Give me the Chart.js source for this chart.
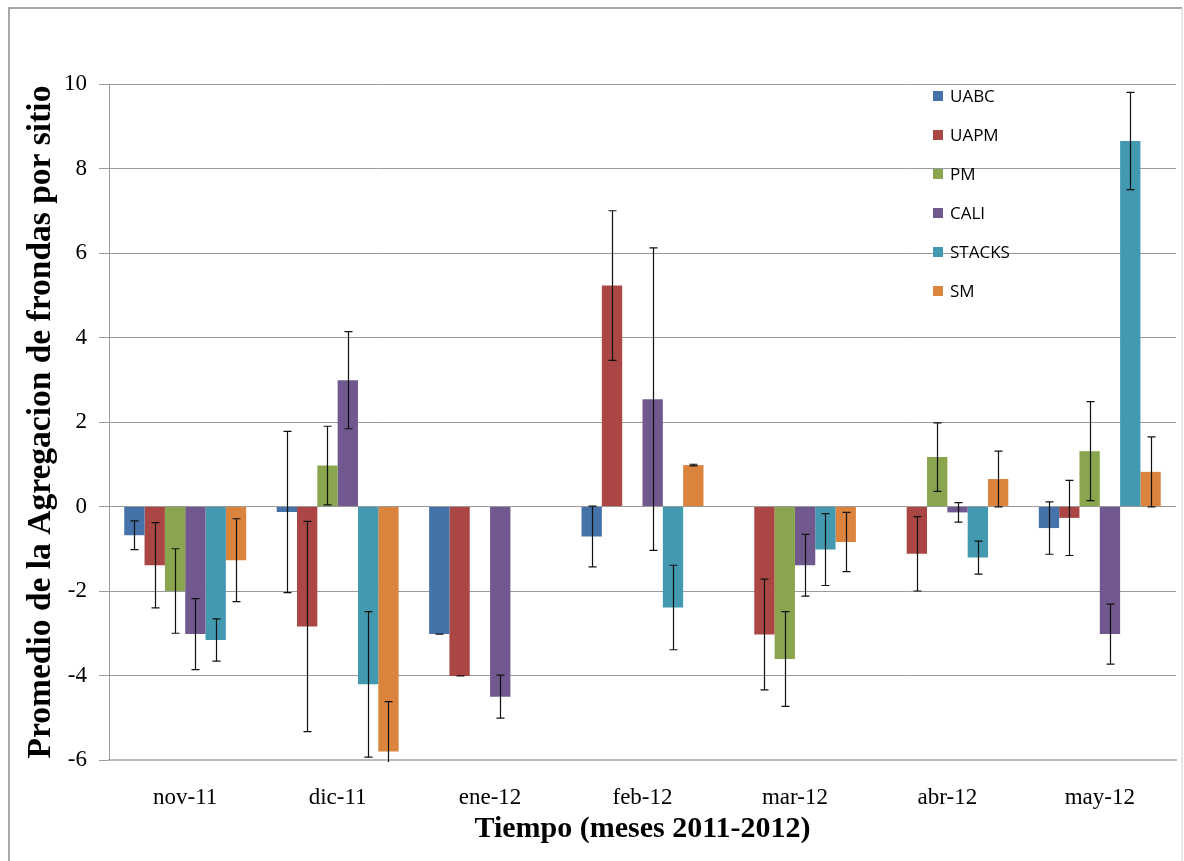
<!DOCTYPE html>
<html>
<head>
<meta charset="utf-8">
<script src="https://cdn.jsdelivr.net/npm/chart.js@4.4.1/dist/chart.umd.min.js"></script>
<style>
    body { margin: 0; background: #fff; }
    #wrap { position: relative; width: 1184px; height: 861px; }
    #leyenda { position: absolute; left: 933px; top: 76px; font-family: 'Open Sans', sans-serif; font-size: 17px; color: #000; }
    #leyenda div { height: 39px; line-height: 39px; white-space: nowrap; }
    #leyenda span { display: inline-block; width: 10px; height: 10px; margin-right: 7px; vertical-align: middle; position: relative; top: -1px; }
</style>
</head>
<body>
<div id="wrap">
    <canvas id="grafico" width="1184" height="861"></canvas>
    <div id="leyenda"></div>
</div>
<script>
const meses = ['nov-11', 'dic-11', 'ene-12', 'feb-12', 'mar-12', 'abr-12', 'may-12'];
const sitios = ['UABC', 'UAPM', 'PM', 'CALI', 'STACKS', 'SM'];
const colores = ['#4572A8', '#AA4643', '#89A54E', '#71588F', '#4299B0', '#DB843D'];

// promedios por sitio
const uabc = [-0.68, -0.13, -3.02, -0.71, null, null, -0.51];
const uapm = [-1.39, -2.84, -4.01, 5.23, -3.03, -1.12, -0.27];
const pm = [-2.0, 0.97, null, null, -3.61, 1.17, 1.31];
const cali = [-3.02, 2.99, -4.5, 2.54, -1.39, -0.14, -3.02];
const stacks = [-3.16, -4.21, null, -2.39, -1.02, -1.21, 8.65];
const sm = [-1.27, -5.8, null, 0.98, -0.84, 0.65, 0.82];

// error (+/-)
const errUabc = [0.34, 1.91, 0, 0.72, null, null, 0.62];
const errUapm = [1.01, 2.49, 0, 1.77, 1.31, 0.88, 0.89];
const errPm = [1.0, 0.93, null, null, 1.12, 0.81, 1.17];
const errCali = [0.84, 1.15, 0.51, 3.58, 0.73, 0.23, 0.71];
const errStacks = [0.5, 1.72, null, 1.0, 0.85, 0.39, 1.15];
const errSm = [0.98, 1.18, null, 0.02, 0.7, 0.66, 0.83];

const yTicks = [-6, -4, -2, 0, 2, 4, 6, 8, 10];

const valores = [uabc, uapm, pm, cali, stacks, sm];
const errores = [errUabc, errUapm, errPm, errCali, errStacks, errSm];

const leyenda = document.getElementById('leyenda');
sitios.forEach((s, i) => {
    leyenda.innerHTML += `<div><span style="background:${colores[i]}"></span>${s}</div>`;
});

const marco = {
    id: 'marco',
    beforeDraw(chart) {
        const ctx = chart.ctx;
        ctx.save();
        ctx.fillStyle = '#fff';
        ctx.fillRect(0, 0, chart.width, chart.height);
        ctx.strokeStyle = '#8a8a8a';
        ctx.lineWidth = 1.5;
        ctx.beginPath();
        ctx.moveTo(9, 870);
        ctx.lineTo(9, 8);
        ctx.lineTo(1182, 8);
        ctx.stroke();
        ctx.strokeStyle = '#e0e0e0';
        ctx.beginPath();
        ctx.moveTo(1182, 8);
        ctx.lineTo(1182, 870);
        ctx.stroke();
        ctx.restore();
    }
};

const barrasError = {
    id: 'barrasError',
    afterDatasetsDraw(chart) {
        const ctx = chart.ctx;
        const y = chart.scales.y;
        const area = chart.chartArea;
        ctx.save();
        ctx.beginPath();
        ctx.rect(area.left, area.top - 2, area.right - area.left, area.bottom - area.top + 4);
        ctx.clip();
        ctx.strokeStyle = '#111';
        ctx.lineWidth = 1.2;
        chart.data.datasets.forEach((ds, i) => {
            const meta = chart.getDatasetMeta(i);
            meta.data.forEach((bar, j) => {
                const v = ds.data[j];
                const e = errores[i][j];
                if (v === null || e === null) return;
                const x = Math.round(bar.x) + 0.5;
                const y1 = y.getPixelForValue(v + e);
                const y2 = y.getPixelForValue(v - e);
                ctx.beginPath();
                ctx.moveTo(x, y1);
                ctx.lineTo(x, y2);
                ctx.moveTo(x - 4, y1);
                ctx.lineTo(x + 4, y1);
                ctx.moveTo(x - 4, y2);
                ctx.lineTo(x + 4, y2);
                ctx.stroke();
            });
        });
        ctx.restore();
    }
};

new Chart(document.getElementById('grafico'), {
    type: 'bar',
    data: {
        labels: meses,
        datasets: sitios.map((s, i) => ({
            label: s,
            data: valores[i],
            backgroundColor: colores[i],
            borderWidth: 0,
            categoryPercentage: 0.8,
            barPercentage: 1.0
        }))
    },
    options: {
        responsive: false,
        animation: false,
        layout: { padding: { top: 84, right: 8, left: 0, bottom: 0 } },
        plugins: {
            legend: { display: false },
            tooltip: { enabled: false }
        },
        scales: {
            x: {
                grid: { display: false },
                border: { display: true, color: '#bdbdbd', width: 2 },
                ticks: {
                    color: '#000',
                    padding: 16,
                    maxRotation: 0,
                    font: { family: 'Liberation Serif', size: 23 }
                },
                title: {
                    display: true,
                    text: 'Tiempo (meses 2011-2012)',
                    color: '#000',
                    padding: { top: 0, bottom: 14 },
                    font: { family: 'Liberation Serif', size: 30, weight: 'bold' }
                },
                afterFit: (scale) => { scale.height = 101; }
            },
            y: {
                min: -6,
                max: 10,
                afterBuildTicks: (scale) => { scale.ticks = yTicks.map(v => ({ value: v })); },
                grid: { color: '#9a9a9a', lineWidth: 1, tickLength: 10 },
                border: { display: true, color: '#9a9a9a', width: 1 },
                ticks: {
                    color: '#000',
                    padding: 12,
                    font: { family: 'Liberation Serif', size: 23 }
                },
                title: {
                    display: true,
                    text: 'Promedio de la Agregacion de frondas por sitio',
                    color: '#000',
                    padding: { top: 21, bottom: 0 },
                    font: { family: 'Liberation Serif', size: 33.5, weight: 'bold' }
                },
                afterFit: (scale) => { scale.width = 109; }
            }
        }
    },
    plugins: [marco, barrasError]
});
</script>
</body>
</html>
